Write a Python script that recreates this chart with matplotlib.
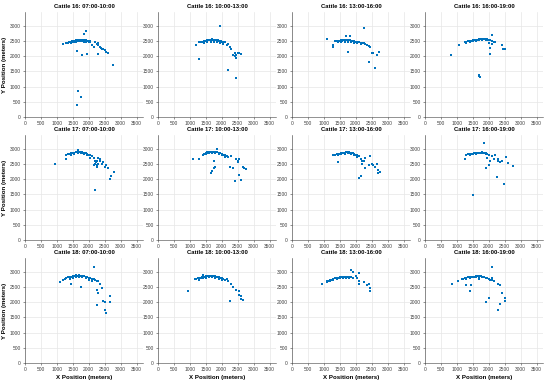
import matplotlib.pyplot as plt

# 牛只位置数据
titles = ['Cattle 16: 07:00-10:00', 'Cattle 16: 10:00-13:00', 'Cattle 16: 13:00-16:00', 'Cattle 16: 16:00-19:00',
          'Cattle 17: 07:00-10:00', 'Cattle 17: 10:00-13:00', 'Cattle 17: 13:00-16:00', 'Cattle 17: 16:00-19:00',
          'Cattle 18: 07:00-10:00', 'Cattle 18: 10:00-13:00', 'Cattle 18: 13:00-16:00', 'Cattle 18: 16:00-19:00']

x16a = [1300, 1350, 1380, 1400, 1420, 1450, 1470, 1500, 1520, 1550, 1580, 1600, 1620, 1650, 1680, 1700, 1720, 1750,
        1780, 1800, 1820, 1850, 1880, 1900, 1920, 1950, 1980, 2000, 2030, 2050, 1450, 1500, 1550, 1600, 1650, 1700,
        1750, 1800, 1850, 1900, 2000, 1200, 1910, 1850, 1640, 1780, 1950, 2200, 2250, 2300, 2350, 2400, 2450, 2500,
        2550, 2600, 2150, 2300, 2750, 1655, 1760, 1640, 2100, 2280, 2380]
y16a = [2430, 2440, 2460, 2470, 2480, 2480, 2490, 2500, 2500, 2510, 2510, 2520, 2520, 2530, 2520, 2530, 2540, 2530,
        2540, 2530, 2520, 2530, 2510, 2520, 2500, 2500, 2490, 2480, 2490, 2470, 2440, 2460, 2470, 2480, 2490, 2500,
        2500, 2490, 2480, 2470, 2450, 2400, 2840, 2720, 2180, 2050, 2060, 2450, 2400, 2350, 2300, 2250, 2250, 2200,
        2150, 2100, 2300, 2080, 1720, 855, 670, 385, 2380, 2420, 2280]

x16b = [1300, 1350, 1400, 1450, 1480, 1500, 1530, 1550, 1580, 1600, 1630, 1650, 1680, 1700, 1730, 1750, 1780, 1800,
        1830, 1850, 1880, 1900, 1930, 1950, 1980, 2000, 2050, 2100, 1450, 1550, 1650, 1750, 1850, 1950, 2050, 1180,
        1950, 1270, 2180, 2460, 2200, 2250, 2300, 2350, 2400, 2450, 2500, 2550, 2600, 2450, 2400, 2150, 2050]
y16b = [2450, 2460, 2470, 2490, 2500, 2500, 2510, 2520, 2520, 2530, 2530, 2540, 2540, 2550, 2540, 2540, 2530, 2540,
        2530, 2520, 2520, 2510, 2500, 2500, 2490, 2480, 2470, 2460, 2430, 2460, 2480, 2470, 2460, 2420, 2400, 2350,
        3000, 1920, 1530, 1270, 2400, 2300, 2250, 2050, 2100, 2050, 2100, 2100, 2080, 1950, 2000, 2350, 2420]

x16c = [1350, 1400, 1450, 1500, 1530, 1550, 1580, 1600, 1630, 1650, 1680, 1700, 1730, 1750, 1780, 1800, 1830, 1850,
        1880, 1900, 1930, 1950, 1980, 2000, 2050, 2100, 2150, 2200, 2250, 2300, 2350, 2400, 1450, 1550, 1650, 1750,
        1850, 1950, 2050, 2150, 1100, 1280, 1300, 2270, 1770, 1700, 1820, 2450, 2500, 2550, 2650, 2720, 2400, 2600]
y16c = [2500, 2490, 2500, 2510, 2500, 2520, 2510, 2520, 2530, 2520, 2530, 2540, 2520, 2530, 2530, 2520, 2520, 2510,
        2510, 2500, 2500, 2490, 2480, 2480, 2470, 2460, 2440, 2430, 2420, 2400, 2380, 2340, 2450, 2460, 2470, 2460,
        2460, 2440, 2420, 2400, 2550, 2300, 2380, 2930, 2150, 2650, 2650, 2300, 2100, 2100, 2050, 2130, 1800, 1620]

x16d = [1250, 1280, 1300, 1350, 1380, 1400, 1450, 1480, 1500, 1550, 1580, 1600, 1650, 1680, 1700, 1750, 1780, 1800,
        1850, 1880, 1900, 1950, 1980, 2000, 2050, 2100, 2150, 1300, 1400, 1500, 1600, 1700, 1800, 1900, 800, 1080,
        2100, 2050, 2050, 2400, 2450, 2500, 2200, 1700, 1710, 1690, 2000, 2100]
y16d = [2450, 2470, 2480, 2490, 2490, 2500, 2510, 2510, 2520, 2520, 2530, 2530, 2540, 2540, 2550, 2550, 2560, 2560,
        2560, 2570, 2560, 2550, 2540, 2530, 2520, 2500, 2480, 2440, 2460, 2490, 2510, 2520, 2530, 2540, 2030, 2360,
        2680, 2280, 2080, 2380, 2250, 2250, 2450, 1350, 1300, 1380, 2440, 2400]

x17a = [1300, 1350, 1400, 1450, 1500, 1550, 1600, 1630, 1650, 1700, 1730, 1750, 1780, 1800, 1830, 1850, 1880, 1900,
        1950, 2000, 2050, 2100, 2150, 2200, 2200, 2230, 2250, 2270, 2300, 2300, 2150, 2250, 2350, 1450, 1550, 1650,
        1750, 1850, 1950, 2050, 950, 1300, 2200, 2650, 2700, 2550, 2450, 2600, 2800, 2350, 2400, 2500, 1650]
y17a = [2800, 2820, 2830, 2850, 2860, 2870, 2880, 2900, 2890, 2900, 2880, 2890, 2880, 2880, 2870, 2870, 2860, 2850,
        2830, 2800, 2780, 2750, 2700, 2600, 2500, 2550, 2450, 2600, 2500, 2700, 2450, 2400, 2650, 2780, 2830, 2850,
        2850, 2830, 2780, 2700, 2500, 2650, 1650, 2000, 2100, 2450, 2550, 2350, 2250, 2600, 2500, 2400, 2950]

x17b = [1400, 1450, 1500, 1530, 1550, 1580, 1600, 1630, 1650, 1680, 1700, 1730, 1750, 1780, 1800, 1850, 1900, 1950,
        2000, 2050, 2100, 2150, 2200, 1500, 1600, 1700, 1800, 1900, 2000, 2100, 1100, 1300, 1850, 1650, 1700, 1750,
        1800, 1750, 2250, 2350, 2400, 2550, 2600, 2500, 2450, 2700, 2750, 2650, 2300, 2500, 2550]
y17b = [2800, 2840, 2860, 2870, 2880, 2880, 2890, 2890, 2900, 2890, 2900, 2900, 2890, 2890, 2880, 2880, 2860, 2850,
        2830, 2800, 2780, 2760, 2740, 2820, 2850, 2860, 2860, 2820, 2780, 2720, 2670, 2650, 2980, 2200, 2280, 2350,
        2400, 2600, 2400, 2380, 1950, 2150, 1970, 2600, 2650, 2350, 2320, 2400, 2750, 2550, 2650]

x17c = [1350, 1400, 1450, 1500, 1530, 1550, 1580, 1600, 1630, 1650, 1680, 1700, 1730, 1750, 1780, 1800, 1830, 1850,
        1900, 1950, 2000, 2050, 2100, 1450, 1550, 1650, 1750, 1850, 1950, 2050, 1300, 1450, 2100, 2150, 2300, 2450,
        2200, 2250, 2300, 2500, 2550, 2600, 2650, 2700, 2700, 2750, 2150, 2200, 2400]
y17c = [2800, 2820, 2830, 2840, 2850, 2850, 2860, 2870, 2860, 2870, 2880, 2880, 2890, 2880, 2880, 2870, 2870, 2860,
        2850, 2830, 2800, 2780, 2760, 2800, 2820, 2840, 2850, 2820, 2780, 2730, 2780, 2550, 2050, 2100, 2700, 2750,
        2500, 2600, 2350, 2500, 2450, 2400, 2500, 2300, 2200, 2250, 2650, 2580, 2450]

x17d = [1300, 1350, 1400, 1450, 1500, 1550, 1600, 1650, 1700, 1750, 1800, 1850, 1900, 1950, 1400, 1500, 1600, 1700,
        1800, 1900, 1250, 1850, 1500, 2270, 2470, 2750, 2600, 2550, 1900, 2000, 2050, 2200, 2300, 2350, 2400, 1950,
        2100, 2000, 2150, 2300]
y17d = [2800, 2810, 2820, 2830, 2840, 2850, 2860, 2860, 2870, 2870, 2880, 2870, 2860, 2840, 2790, 2820, 2840, 2850,
        2850, 2820, 2650, 3200, 1480, 2070, 1850, 2430, 2520, 2720, 2350, 2450, 2600, 2800, 2650, 2550, 2600, 2700,
        2750, 2800, 2650, 2600]

x18a = [1100, 1200, 1250, 1300, 1350, 1400, 1450, 1500, 1550, 1600, 1650, 1700, 1750, 1800, 1850, 1900, 1950, 2000,
        2050, 2100, 2150, 2200, 2250, 2300, 1400, 1500, 1600, 1700, 1800, 1900, 2000, 2100, 2150, 1450, 1750, 2250,
        2300, 2400, 2250, 2450, 2500, 2650, 2650, 2500, 2550, 2350]
y18a = [2650, 2720, 2760, 2790, 2810, 2830, 2840, 2850, 2860, 2880, 2870, 2880, 2860, 2860, 2850, 2840, 2820, 2800,
        2790, 2770, 2750, 2720, 2700, 2680, 2770, 2790, 2820, 2830, 2810, 2780, 2740, 2700, 3150, 2600, 2500, 2400,
        2300, 2450, 1900, 2050, 2000, 2200, 2000, 1750, 1650, 2600]

x18b = [1150, 1200, 1250, 1300, 1350, 1380, 1400, 1450, 1500, 1550, 1600, 1650, 1700, 1750, 1800, 1850, 1900, 1950,
        2000, 2050, 2100, 1300, 1400, 1500, 1600, 1700, 1800, 1900, 2000, 1400, 950, 2250, 2300, 2350, 2450, 2550,
        2550, 2600, 2600, 2650, 2200, 2150]
y18b = [2750, 2760, 2780, 2790, 2800, 2820, 2830, 2840, 2850, 2850, 2860, 2860, 2870, 2860, 2850, 2840, 2820, 2800,
        2780, 2750, 2730, 2740, 2780, 2800, 2810, 2820, 2800, 2770, 2740, 2880, 2370, 2050, 2600, 2500, 2400, 2350,
        2250, 2200, 2100, 2080, 2700, 2750]

x18c = [1100, 1150, 1200, 1250, 1300, 1350, 1400, 1450, 1500, 1550, 1600, 1650, 1700, 1750, 1800, 1850, 1900, 1200,
        1300, 1400, 1500, 1600, 1700, 1800, 950, 1100, 1850, 1900, 2100, 2000, 2100, 2100, 2250, 2350, 2450, 2400,
        2450, 2050]
y18c = [2650, 2700, 2720, 2740, 2760, 2780, 2790, 2800, 2810, 2820, 2830, 2830, 2840, 2830, 2820, 2810, 2800, 2680,
        2720, 2760, 2780, 2790, 2800, 2780, 2580, 2700, 3050, 3000, 2950, 2850, 2700, 2600, 2650, 2550, 2450, 2600,
        2350, 2800]

x18d = [1150, 1200, 1250, 1300, 1350, 1400, 1450, 1500, 1550, 1600, 1650, 1700, 1750, 1800, 1850, 1900, 1950, 2000,
        2050, 2100, 2150, 1300, 1400, 1500, 1600, 1700, 1800, 1900, 850, 2100, 1300, 1400, 1450, 1700, 1900, 2000,
        2100, 2300, 2350, 2350, 2400, 2300, 2500, 2500, 1050]
y18d = [2750, 2770, 2790, 2800, 2810, 2820, 2830, 2830, 2840, 2850, 2860, 2860, 2850, 2840, 2820, 2800, 2780, 2760,
        2740, 2720, 2700, 2760, 2790, 2810, 2820, 2830, 2820, 2790, 2600, 3150, 2550, 2350, 2550, 2750, 2000, 2150,
        2800, 2600, 2550, 1950, 2300, 1750, 2150, 2050, 2700]

xs = [x16a, x16b, x16c, x16d, x17a, x17b, x17c, x17d, x18a, x18b, x18c, x18d]
ys = [y16a, y16b, y16c, y16d, y17a, y17b, y17c, y17d, y18a, y18b, y18c, y18d]

plt.rcParams['font.family'] = ['Liberation Sans', 'DejaVu Sans']

fig = plt.figure(figsize=(5.5, 3.83), dpi=100)
W, H = 550, 383
lefts = [25, 158, 292, 425]
bottoms = [117, 240, 363]
aw, ah = 118, 105

for i in range(12):
    r, c = divmod(i, 4)
    ax = fig.add_axes([lefts[c] / W, 1 - bottoms[r] / H, aw / W, ah / H])
    ax.scatter(xs[i], ys[i], s=4, color='#0072BD', marker='s', linewidths=0)
    ax.set_xlim(0, 3700)
    ax.set_ylim(0, 3450)
    ax.set_xticks(range(0, 3501, 500))
    ax.set_yticks(range(0, 3001, 500))
    ax.grid(True, color='#e6e6e6', linewidth=0.5)
    ax.set_axisbelow(True)
    ax.tick_params(labelsize=3.5, colors='#404040', length=1.5, width=0.4, pad=1.5)
    for s in ['top', 'right']:
        ax.spines[s].set_visible(False)
    for s in ['left', 'bottom']:
        ax.spines[s].set_color('#404040')
        ax.spines[s].set_linewidth(0.4)
    ax.set_title(titles[i], fontsize=4.2, fontweight='bold', pad=3)
    if c == 0:
        ax.set_ylabel('Y Position (meters)', fontsize=4.4, fontweight='bold', labelpad=2)
    if r == 2:
        ax.set_xlabel('X Position (meters)', fontsize=4.4, fontweight='bold', labelpad=2)

plt.savefig('out.png', dpi=100)
